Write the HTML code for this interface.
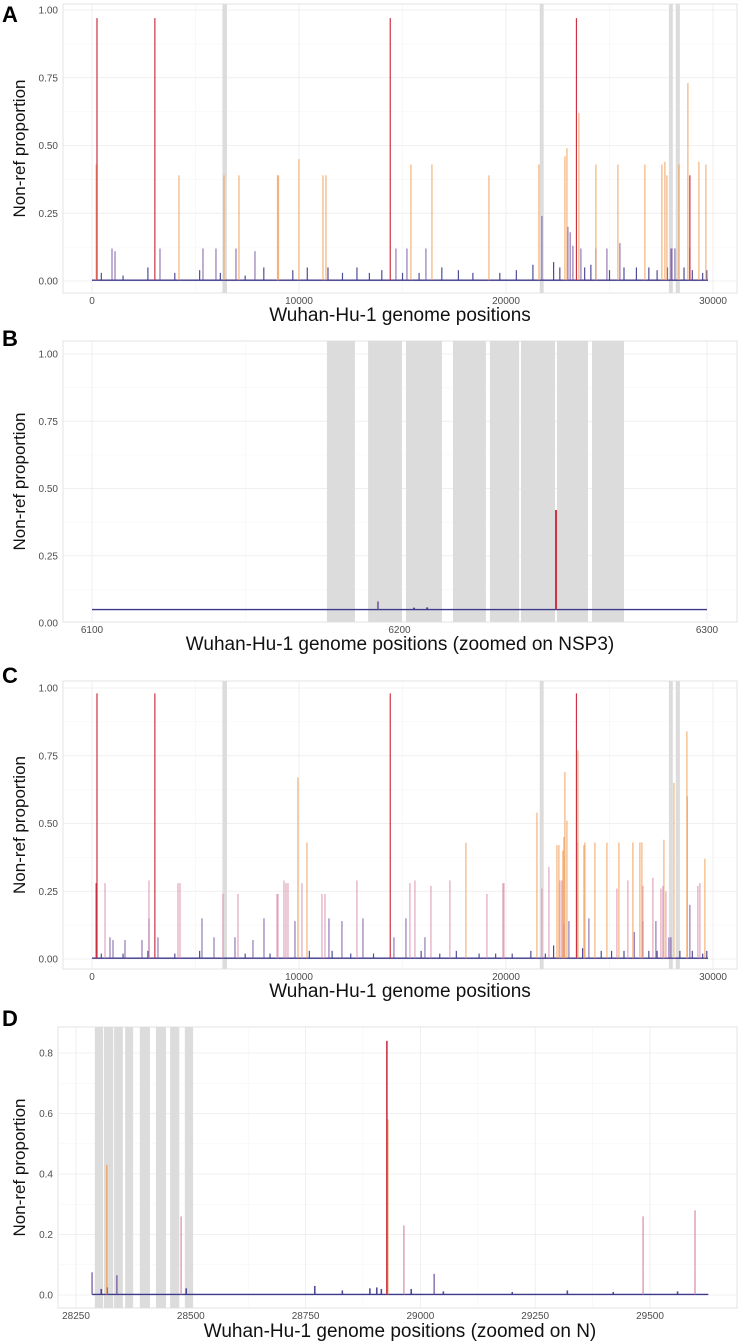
<!DOCTYPE html>
<html><head><meta charset="utf-8"><style>
html,body{margin:0;padding:0;background:#fff;}
svg{display:block;font-family:"Liberation Sans",sans-serif;}
</style></head><body>
<svg id="fig" width="741" height="1343" viewBox="0 0 741 1343" xmlns="http://www.w3.org/2000/svg"></svg>
<script>
// ---------- Panel A data ----------
const aPos=[241,3037,14408,23403,28883, 200,4202,6376,7100,8960,9010,9998,11157,11302,15408,16422,19175,21590,22846,22943,23522,24344,25406,26710,27531,27676,27773,28352,28787,29319,29657,
966,1111,3284,5361,5989,6955,7873,14683,15215,16132,21735,22990,23100,23232,23619,24344,24875,25502,27966,28014,28159,28883,
450,1500,2700,4000,5200,6200,7400,8300,9700,10400,11400,12100,12800,13400,14000,15000,15800,16900,17700,18400,19700,20500,21300,22300,22600,23800,24100,25000,25700,26300,26900,27300,27800,28600,29000,29500,29700];
const aVal=[0.97,0.97,0.97,0.97,0.39, 0.43,0.39,0.39,0.39,0.39,0.39,0.45,0.39,0.39,0.43,0.43,0.39,0.43,0.46,0.49,0.62,0.43,0.43,0.43,0.43,0.44,0.39,0.43,0.73,0.44,0.43,
0.12,0.11,0.12,0.12,0.12,0.12,0.11,0.12,0.12,0.12,0.24,0.20,0.18,0.13,0.12,0.12,0.12,0.14,0.12,0.12,0.12,0.12,
0.03,0.02,0.05,0.03,0.04,0.03,0.02,0.05,0.04,0.05,0.05,0.03,0.05,0.03,0.04,0.03,0.03,0.05,0.04,0.03,0.03,0.04,0.06,0.07,0.05,0.05,0.06,0.04,0.05,0.05,0.05,0.04,0.05,0.05,0.04,0.03,0.04];
const aCat=['r','r','r','r','r','o','o','o','o','o','o','o','o','o','o','o','o','o','o','o','o','o','o','o','o','o','o','o','o','o','o',
'p','p','p','p','p','p','p','p','p','p','p','p','p','p','p','p','p','p','p','p','p','p',
'k','k','k','k','k','k','k','k','k','k','k','k','k','k','k','k','k','k','k','k','k','k','k','k','k','k','k','k','k','k','k','k','k','k','k','k','k'];
const aBands=[[6300,6520],[21630,21820],[27870,28060],[28200,28400]];
const aXTicks=[0,10000,20000,30000];
const aYTicks=[0,0.25,0.5,0.75,1];
const aYLabels=['0.00','0.25','0.50','0.75','1.00'];

// ---------- Panel B data ----------
const bPos=[6193,6204.7,6209,6250.9];
const bVal=[0.08,0.057,0.058,0.42];
const bCat=['p','k','k','r'];
const bBands=[[6176.4,6185.5],[6189.8,6200.8],[6202.1,6213.8],[6217.4,6228.1],[6229.4,6238.9],[6239.5,6250.6],[6251.2,6261.3],[6262.6,6273]];
const bXTicks=[6100,6200,6300];
const bYTicks=[0,0.25,0.5,0.75,1];
const bYLabels=['0.00','0.25','0.50','0.75','1.00'];
const bBase=0.05;

// ---------- Panel C data ----------
const cPos=[241,3037,14408,23403,200,
9950,10385,18064,21494,22460,22556,22749,22798,22846,22943,23474,23470,23764,23812,24295,24875,25454,26130,26468,26565,27628,28111,28739,28760,29608,
628,2753,4154,4250,6327,7052,8936,8984,9274,9370,9467,10143,11109,11254,12800,15359,15601,16374,17291,19079,19851,19900,21735,22073,22604,22700,25358,25889,26613,27096,27483,27579,27724,29270,29367,
869,1014,1594,2415,2753,3188,5313,5893,6907,7776,8308,9805,11447,12075,13089,14587,15166,16084,22800,23039,24005,26200,26613,27241,27869,27966,28883,
450,1500,2700,4000,5200,7400,8600,10500,11600,12500,13600,15900,16800,17600,18700,19500,20300,21200,21900,22300,23700,24600,25100,25700,26900,27300,28400,29000,29500,29700];
const cVal=[0.98,0.98,0.98,0.98,0.28,
0.67,0.43,0.43,0.54,0.42,0.42,0.40,0.45,0.69,0.51,0.77,0.43,0.42,0.43,0.43,0.43,0.43,0.43,0.43,0.43,0.44,0.65,0.84,0.60,0.37,
0.28,0.29,0.28,0.28,0.24,0.24,0.24,0.24,0.29,0.28,0.28,0.28,0.24,0.24,0.29,0.28,0.29,0.27,0.29,0.24,0.28,0.28,0.26,0.34,0.29,0.29,0.26,0.29,0.27,0.30,0.26,0.27,0.25,0.27,0.28,
0.08,0.07,0.07,0.07,0.15,0.08,0.15,0.08,0.08,0.07,0.15,0.14,0.15,0.14,0.15,0.08,0.15,0.08,0.13,0.14,0.15,0.10,0.14,0.14,0.08,0.08,0.20,
0.02,0.02,0.03,0.02,0.03,0.02,0.02,0.03,0.03,0.02,0.02,0.03,0.02,0.03,0.02,0.02,0.02,0.03,0.02,0.05,0.04,0.03,0.03,0.03,0.03,0.03,0.03,0.03,0.02,0.03];
const cCat=['r','r','r','r','r',
'o','o','o','o','o','o','o','o','o','o','o','o','o','o','o','o','o','o','o','o','o','o','o','o','o',
'i','i','i','i','i','i','i','i','i','i','i','i','i','i','i','i','i','i','i','i','i','i','i','i','i','i','i','i','i','i','i','i','i','i','i',
'p','p','p','p','p','p','p','p','p','p','p','p','p','p','p','p','p','p','p','p','p','p','p','p','p','p','p',
'k','k','k','k','k','k','k','k','k','k','k','k','k','k','k','k','k','k','k','k','k','k','k','k','k','k','k','k','k','k'];
const cBands=aBands;
const cXTicks=[0,10000,20000,30000];
const cYTicks=[0,0.25,0.5,0.75,1];
const cYLabels=['0.00','0.25','0.50','0.75','1.00'];

// ---------- Panel D data ----------
const dPos=[28927,28929,28317,28479,28964,29485,29598,28285,28339,29030,28305,28318,28490,28770,28830,28890,28905,28915,28980,29050,29200,29320,29420,29560];
const dVal=[0.84,0.58,0.43,0.26,0.23,0.26,0.28,0.075,0.065,0.07,0.02,0.025,0.022,0.03,0.015,0.022,0.025,0.02,0.02,0.012,0.01,0.015,0.01,0.012];
const dCat=['r','o','o','i','i','i','i','p','p','p','k','k','k','k','k','k','k','k','k','k','k','k','k','k'];
const dBands=[[28291,28309],[28311,28331],[28333,28352],[28357,28374],[28389,28411],[28424,28446],[28455,28475],[28487,28505]];
const dXTicks=[28250,28500,28750,29000,29250,29500];
const dYTicks=[0,0.2,0.4,0.6,0.8];
const dYLabels=['0.0','0.2','0.4','0.6','0.8'];

const NS='http://www.w3.org/2000/svg';
const svg=document.getElementById('fig');
function mk(tag,attrs,parent){const e=document.createElementNS(NS,tag);for(const k in attrs)e.setAttribute(k,attrs[k]);(parent||svg).appendChild(e);return e;}

const COL={r:'#c8283a',o:'#f0a05a',i:'#d889a8',p:'#6f4e9e',k:'#3d3a8c'};
const OP={r:0.95,o:0.8,i:0.75,p:0.75,k:0.9};
const ORDER=['k','p','i','o','r'];

function panel(cfg){
  const g=mk('g',{});
  
  
  const sx=v=>cfg.x0px+(v-cfg.x0)*cfg.xs;
  const sy=v=>cfg.y0px-v*cfg.ys;
  const bd=mk('rect',{x:cfg.L,y:cfg.T,width:cfg.R-cfg.L,height:cfg.B-cfg.T,fill:'#fff',stroke:'#e3e3e3','stroke-width':1},g);
  
  
  for(let i=0;i<cfg.yt.length-1;i++){
    const m=(cfg.yt[i]+cfg.yt[i+1])/2;
    mk('line',{x1:cfg.L,x2:cfg.R,y1:sy(m),y2:sy(m),stroke:'#f4f4f4','stroke-width':0.6},g);
  }
  for(let i=0;i<cfg.xt.length-1;i++){
    const m=(cfg.xt[i]+cfg.xt[i+1])/2;
    mk('line',{x1:sx(m),x2:sx(m),y1:cfg.T,y2:cfg.B,stroke:'#f4f4f4','stroke-width':0.6},g);
  }
  cfg.yt.forEach((v,i)=>{
    if(sy(v)>cfg.T && sy(v)<cfg.B) mk('line',{x1:cfg.L,x2:cfg.R,y1:sy(v),y2:sy(v),stroke:'#ebebeb','stroke-width':0.8},g);
    const t=mk('text',{x:cfg.L-5,y:sy(v)+3.5,'text-anchor':'end','font-size':10,fill:'#4d4d4d'},g);
    t.textContent=cfg.yl[i];
    
    
  });
  cfg.xt.forEach(v=>{
    mk('line',{x1:sx(v),x2:sx(v),y1:cfg.T,y2:cfg.B,stroke:'#ebebeb','stroke-width':0.8},g);
    const t=mk('text',{x:sx(v),y:cfg.B+11,'text-anchor':'middle','font-size':10,fill:'#4d4d4d'},g);
    t.textContent=String(v);
    
    
  });
  cfg.bands.forEach(b=>{
    const r=mk('rect',{x:sx(b[0]),y:cfg.T,width:Math.max(2.5,sx(b[1])-sx(b[0])),height:cfg.B-cfg.T,fill:'#dcdcdc'},g);
    
    
  });
  const bl=mk('line',{x1:sx(cfg.bl0),x2:sx(cfg.bl1),y1:sy(cfg.base),y2:sy(cfg.base),stroke:'#3d3a8c','stroke-width':1.4},g);
  
  
  ORDER.forEach(c=>{
    cfg.pos.forEach((p,i)=>{
      if(cfg.cat[i]!==c)return;
      const l=mk('line',{x1:sx(p),x2:sx(p),y1:sy(cfg.base),y2:sy(cfg.val[i]),stroke:COL[c],'stroke-opacity':OP[c],'stroke-width':cfg.sw},g);
      
      
    });
  });
  const xt=mk('text',{x:400,y:cfg.xtitleY,'text-anchor':'middle','font-size':19,fill:'#111'},g);
  xt.textContent=cfg.xtitle;
  
  
  const cy=(cfg.T+cfg.B)/2;
  const yt=mk('text',{x:0,y:0,'text-anchor':'middle','font-size':17,fill:'#111',transform:`translate(25,${cy}) rotate(-90)`},g);
  yt.textContent='Non-ref proportion';
  
  
  const lb=mk('text',{x:2,y:cfg.labY,'font-size':22,'font-weight':'bold',fill:'#000'},g);
  lb.textContent=cfg.label;
  
  
}

panel({name:'panel-a',label:'A',labY:22,L:63,R:737,T:4,B:293,x0:0,x0px:92,xs:0.0207,y0px:281,ys:271,
  xt:aXTicks,yt:aYTicks,yl:aYLabels,bands:aBands,pos:aPos,val:aVal,cat:aCat,base:0.003,bl0:0,bl1:29760,sw:1.2,
  xtitle:'Wuhan-Hu-1 genome positions',xtitleY:321});
panel({name:'panel-b',label:'B',labY:346,L:63,R:737,T:341,B:622,x0:6100,x0px:92,xs:3.075,y0px:623,ys:269,
  xt:bXTicks,yt:bYTicks,yl:bYLabels,bands:bBands,pos:bPos,val:bVal,cat:bCat,base:bBase,bl0:6100,bl1:6300,sw:2,
  xtitle:'Wuhan-Hu-1 genome positions (zoomed on NSP3)',xtitleY:650});
panel({name:'panel-c',label:'C',labY:683,L:63,R:737,T:681,B:969,x0:0,x0px:92,xs:0.0207,y0px:959,ys:271,
  xt:cXTicks,yt:cYTicks,yl:cYLabels,bands:cBands,pos:cPos,val:cVal,cat:cCat,base:0.003,bl0:0,bl1:29760,sw:1.2,
  xtitle:'Wuhan-Hu-1 genome positions',xtitleY:997});
panel({name:'panel-d',label:'D',labY:1026,L:58,R:737,T:1027,B:1308,x0:28250,x0px:76,xs:0.4592,y0px:1295,ys:302.5,
  xt:dXTicks,yt:dYTicks,yl:dYLabels,bands:dBands,pos:dPos,val:dVal,cat:dCat,base:0.002,bl0:28285,bl1:29627,sw:1.6,
  xtitle:'Wuhan-Hu-1 genome positions (zoomed on N)',xtitleY:1337});
</script>
</body></html>
